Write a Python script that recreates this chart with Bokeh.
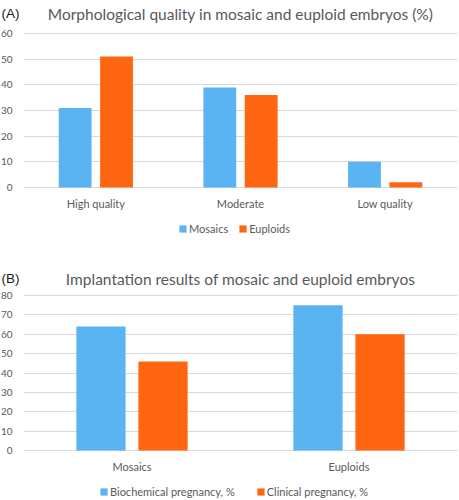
from bokeh.plotting import figure
from bokeh.models import (Range1d, FixedTicker, Legend, LegendItem, Label,
                          ColumnDataSource)
from bokeh.transform import dodge
from bokeh.layouts import column
from bokeh.embed import file_html
from bokeh.resources import INLINE

# ---- data ----
cats_a = ["High quality", "Moderate", "Low quality"]
mosaics_a = [31, 39, 10]
euploids_a = [51, 36, 2]
yticks_a = [0, 10, 20, 30, 40, 50, 60]

cats_b = ["Mosaics", "Euploids"]
biochem_b = [64, 75]
clinical_b = [46, 60]
yticks_b = [0, 10, 20, 30, 40, 50, 60, 70, 80]

BLUE = "#5AB4F2"
ORANGE = "#FF6612"
GRID = "#D9D9D9"
TXT = "#595959"
FONT = "Lato"

W, H = 459, 250
LEFT, RIGHT = 23, 457


def panel(tag, title, cats, n1, v1, n2, v2, yticks, plot_top, plot_bottom,
          title_base, leg_x, leg_mid, leg_spacing):
    n = len(cats)
    ymax = yticks[-1]
    ux = (RIGHT - LEFT) / n
    uy = (plot_bottom - plot_top) / ymax
    pos = [i + 0.5 for i in range(n)]
    src = ColumnDataSource(dict(pos=pos, a=v1, b=v2))

    p = figure(width=W, height=H, title=None,
               x_range=Range1d(-LEFT / ux, n + (W - RIGHT) / ux),
               y_range=Range1d(-(H - plot_bottom) / uy, ymax + plot_top / uy),
               output_backend="svg", toolbar_location=None,
               min_border=0, min_border_left=0, min_border_right=0,
               min_border_top=0, min_border_bottom=0)
    p.outline_line_color = None
    p.background_fill_color = "white"
    p.border_fill_color = "white"

    # gridlines
    p.xgrid.grid_line_color = None
    grid = p.ygrid[0]
    grid.ticker = FixedTicker(ticks=yticks)
    if "cross_bounds" in grid.properties():
        grid.grid_line_color = GRID
        grid.grid_line_width = 1
        grid.cross_bounds = (0, n)
    else:
        grid.grid_line_color = None
        p.segment(x0=[0] * len(yticks), x1=[n] * len(yticks), y0=yticks,
                  y1=yticks, line_color=GRID, line_width=1)

    r1 = p.vbar(x=dodge("pos", -0.143), top="a", width=0.227,
                source=src, fill_color=BLUE, line_color=None)
    r2 = p.vbar(x=dodge("pos", 0.143), top="b", width=0.227,
                source=src, fill_color=ORANGE, line_color=None)

    # axes drawn at fixed locations inside the full-size frame
    xa = p.xaxis[0]
    ya = p.yaxis[0]
    xa.fixed_location = 0
    ya.fixed_location = 0
    xa.ticker = FixedTicker(ticks=pos)
    xa.major_label_overrides = {pp: c for pp, c in zip(pos, cats)}
    ya.ticker = FixedTicker(ticks=yticks)
    for ax in (xa, ya):
        ax.axis_line_color = None
        ax.major_tick_line_color = None
        ax.minor_tick_line_color = None
        ax.major_tick_out = 0
        ax.major_tick_in = 0
        ax.minor_tick_out = 0
        ax.minor_tick_in = 0
        ax.major_label_text_font = FONT
        ax.major_label_text_color = TXT
    ya.major_label_text_font_size = "10px"
    ya.major_label_standoff = 11
    xa.major_label_text_font_size = "11px"
    xa.major_label_standoff = 9

    # titles
    p.add_layout(Label(x=n / 2, y=H - title_base, x_units="data",
                       y_units="screen", text=title, text_font=FONT,
                       text_font_size="15.5px", text_color=TXT,
                       text_align="center", text_baseline="alphabetic"))
    p.add_layout(Label(x=1, y=H - title_base, x_units="screen",
                       y_units="screen", text=tag,
                       text_font="Liberation Sans", text_font_size="13.5px",
                       text_color="#1A1A1A", text_align="left",
                       text_baseline="alphabetic"))

    # legend
    leg = Legend(items=[LegendItem(label=n1, renderers=[r1]),
                        LegendItem(label=n2, renderers=[r2])],
                 orientation="horizontal",
                 location=(leg_x, H - leg_mid - 6),
                 glyph_width=9, glyph_height=9, label_height=12,
                 label_width=10, label_standoff=2, spacing=leg_spacing,
                 padding=0, margin=0,
                 label_text_font=FONT, label_text_font_size="11px",
                 label_text_color=TXT, border_line_color=None,
                 background_fill_alpha=0)
    p.add_layout(leg, "center")
    return p


pa = panel("(A)", "Morphological quality in mosaic and euploid embryos (%)",
           cats_a, "Mosaics", mosaics_a, "Euploids", euploids_a, yticks_a,
           33, 187, 13, 178, 229, 10)
pb = panel("(B)", "Implantation results of mosaic and euploid embryos",
           cats_b, "Biochemical pregnancy, %", biochem_b,
           "Clinical pregnancy, %", clinical_b, yticks_b,
           45, 200, 28, 99, 242, 21)

layout = column(pa, pb, spacing=0)
open("out.html", "w").write(file_html(layout, INLINE))
